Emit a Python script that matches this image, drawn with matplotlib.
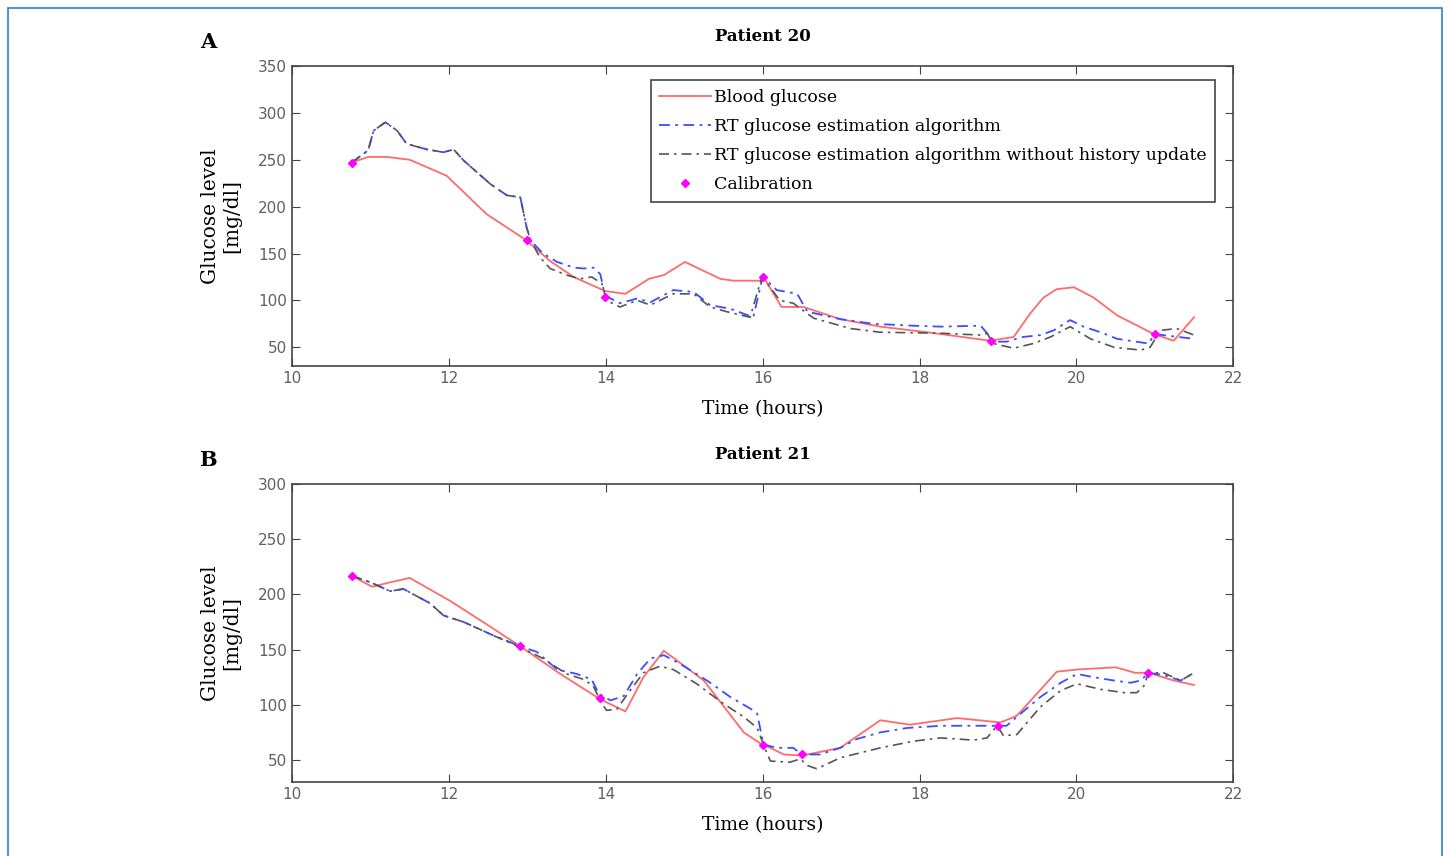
import matplotlib.pyplot as plt
from matplotlib.patches import Rectangle

# Patient 20 data
p20_bg_t = [10.76, 10.97, 11.21, 11.5, 11.97, 12.48, 12.99, 13.29, 13.59, 13.99, 14.25, 14.55, 14.74, 15.01,
            15.46, 15.63, 15.99, 16.01, 16.24, 16.52, 16.99, 17.5, 18.1, 18.9, 19.2, 19.41, 19.58, 19.75,
            19.97, 20.22, 20.52, 20.99, 21.24, 21.5]
p20_bg = [247, 253, 253, 250, 233, 192, 164, 142, 125, 110, 107, 123, 127, 141,
          123, 121, 121, 125, 93, 93, 80, 72, 66, 57, 61, 86, 103, 112,
          114, 103, 84, 64, 57, 82]

p20_nohist_t = [10.76, 10.97, 11.04, 11.19, 11.34, 11.46, 11.72, 11.93, 12.06, 12.19, 12.53, 12.74, 12.91,
                12.99, 13.04, 13.16, 13.29, 13.5, 13.67, 13.82, 13.95, 14.01, 14.18, 14.4, 14.57, 14.86,
                15.12, 15.33, 15.54, 15.84, 15.99, 16.03, 16.22, 16.39, 16.65, 17.12, 17.5, 18.27, 18.78,
                18.86, 18.94, 19.2, 19.45, 19.67, 19.92, 20.18, 20.48, 20.82, 20.94, 21.07, 21.28, 21.5]
p20_nohist = [247, 260, 281, 290, 281, 267, 261, 258, 261, 249, 224, 212, 210,
              178, 164, 146, 134, 127, 123, 125, 118, 100, 93, 100, 95, 107,
              107, 93, 88, 82, 125, 121, 100, 97, 81, 70, 66, 65, 63,
              65, 54, 49, 54, 61, 72, 59, 50, 47, 50, 68, 70, 63]

p20_rt_t = [10.76, 10.97, 11.04, 11.19, 11.34, 11.46, 11.72, 11.93, 12.06, 12.19, 12.53, 12.74, 12.91,
            12.99, 13.04, 13.2, 13.38, 13.59, 13.72, 13.84, 13.93, 13.99, 14.18, 14.4, 14.57, 14.86,
            15.12, 15.33, 15.59, 15.88, 16.0, 16.03, 16.18, 16.44, 16.57, 16.99, 17.41, 17.92, 18.27,
            18.78, 18.86, 18.94, 19.11, 19.32, 19.54, 19.71, 19.92, 20.09, 20.31, 20.52, 20.92, 21.0, 21.5]
p20_rt = [247, 260, 281, 290, 281, 267, 261, 258, 261, 249, 224, 212, 210,
          178, 164, 150, 141, 135, 134, 135, 128, 105, 97, 102, 98, 111,
          109, 95, 91, 82, 125, 123, 111, 107, 88, 80, 75, 73, 72,
          73, 65, 56, 56, 61, 63, 68, 79, 72, 66, 59, 54, 64, 59]

p20_cal_t = [10.76, 12.99, 13.99, 16.01, 18.91, 21.0]
p20_cal = [247, 164, 104, 125, 57, 64]

# Patient 21 data
p21_bg_t = [10.76, 11.02, 11.25, 11.5, 12.02, 12.48, 12.91, 13.42, 13.93, 14.25, 14.48, 14.74, 15.25,
            15.76, 15.99, 16.01, 16.27, 16.5, 16.99, 17.5, 17.88, 18.48, 19.03, 19.24, 19.75, 20.01,
            20.5, 20.75, 20.92, 21.24, 21.5]
p21_bg = [217, 207, 211, 215, 194, 173, 153, 128, 105, 94, 125, 149, 122,
          75, 64, 64, 55, 54, 61, 86, 82, 88, 84, 90, 130, 132,
          134, 129, 129, 122, 118]

p21_nohist_t = [10.76, 11.0, 11.25, 11.42, 11.76, 11.93, 12.19, 12.53, 12.91, 13.2, 13.5, 13.72, 13.84,
                13.95, 14.01, 14.14, 14.31, 14.48, 14.69, 14.86, 15.16, 15.5, 15.76, 15.93, 16.06, 16.1,
                16.35, 16.48, 16.57, 16.69, 16.99, 17.5, 17.92, 18.27, 18.69, 18.86, 18.99, 19.07, 19.24,
                19.54, 19.8, 20.01, 20.31, 20.61, 20.77, 20.86, 20.92, 21.11, 21.33, 21.5]
p21_nohist = [217, 211, 203, 205, 192, 181, 175, 164, 152, 142, 128, 123, 117,
              101, 95, 96, 113, 129, 135, 132, 119, 101, 89, 79, 55, 49,
              48, 51, 45, 42, 52, 61, 67, 70, 68, 70, 81, 72, 73,
              98, 113, 119, 114, 111, 111, 117, 129, 129, 122, 129]

p21_rt_t = [10.76, 11.0, 11.25, 11.42, 11.76, 11.93, 12.19, 12.53, 12.91, 13.12, 13.38, 13.63, 13.82,
            13.91, 14.06, 14.23, 14.4, 14.57, 14.74, 14.95, 15.29, 15.59, 15.88, 15.93, 15.97, 16.01,
            16.18, 16.39, 16.5, 16.73, 16.99, 17.2, 17.5, 17.84, 18.27, 18.69, 19.11, 19.29, 19.54,
            19.8, 20.01, 20.22, 20.48, 20.69, 20.82, 20.92, 21.11, 21.33, 21.5]
p21_rt = [217, 211, 203, 205, 192, 181, 175, 164, 153, 148, 132, 128, 123,
          110, 104, 108, 128, 142, 145, 137, 122, 107, 95, 92, 78, 64,
          61, 61, 55, 55, 61, 69, 75, 79, 81, 81, 81, 92, 107,
          120, 128, 125, 122, 120, 122, 129, 127, 122, 129]

p21_cal_t = [10.76, 12.91, 13.92, 16.0, 16.5, 19.0, 20.91]
p21_cal = [217, 153, 106, 64, 55, 81, 129]

xticks = [10, 12, 14, 16, 18, 20, 22]
labels = ["Blood glucose", "RT glucose estimation algorithm",
          "RT glucose estimation algorithm without history update", "Calibration"]

SERIF = "DejaVu Serif"


# draw one patient panel
def drawPanel(ax, bg, rt, nohist, cal, ylim, yticks, title, letter, legend):
    ax.plot(bg[0], bg[1], color="#ff6b6b", linewidth=1.3, label=labels[0])
    ax.plot(rt[0], rt[1], color="#3a4dff", linestyle=(0, (6, 3, 1.5, 3)), linewidth=1.3, label=labels[1])
    ax.plot(nohist[0], nohist[1], color="#555555", linestyle=(0, (6, 3, 1.5, 3)), linewidth=1.2, label=labels[2])
    ax.plot(cal[0], cal[1], linestyle="none", marker="D", markersize=4.5, color="#ff00ff", label=labels[3])

    ax.set_xlim(10, 22)
    ax.set_ylim(*ylim)
    ax.set_xticks(xticks)
    ax.set_yticks(yticks)
    ax.tick_params(direction="in", top=True, right=True, length=6, labelsize=11, labelcolor="#606060",
                   color="#444444")
    for s in ax.spines.values():
        s.set_color("#444444")
        s.set_linewidth(1.2)

    ax.set_title(title, fontfamily=SERIF, fontweight="bold", fontsize=12, pad=18)
    ax.set_xlabel("Time (hours)", fontfamily=SERIF, fontsize=13.5, labelpad=10)
    ax.set_ylabel("Glucose level\n[mg/dl]", fontfamily=SERIF, fontsize=14.5, linespacing=1.15, labelpad=12)
    ax.text(-0.089, 1.08, letter, transform=ax.transAxes, fontfamily=SERIF, fontweight="bold",
            fontsize=15, ha="center", va="center")

    if legend:
        leg = ax.legend(loc="upper right", bbox_to_anchor=(0.981, 0.953), fancybox=False, framealpha=1,
                        edgecolor="#444444", prop={"family": SERIF, "size": 12.5}, borderaxespad=0,
                        handlelength=3.0, handletextpad=0.15, labelspacing=0.7, borderpad=0.5)
        leg.get_frame().set_linewidth(1.2)


fig = plt.figure(figsize=(14.48, 8.56), dpi=100)
ax1 = fig.add_axes([0.2017, 0.5724, 0.650, 0.3505])
ax2 = fig.add_axes([0.2017, 0.0864, 0.650, 0.348])

drawPanel(ax1, (p20_bg_t, p20_bg), (p20_rt_t, p20_rt), (p20_nohist_t, p20_nohist), (p20_cal_t, p20_cal),
          (30, 350), [50, 100, 150, 200, 250, 300, 350], "Patient 20", "A", True)
drawPanel(ax2, (p21_bg_t, p21_bg), (p21_rt_t, p21_rt), (p21_nohist_t, p21_nohist), (p21_cal_t, p21_cal),
          (30, 300), [50, 100, 150, 200, 250, 300], "Patient 21", "B", False)

# thin blue frame around the figure
fig.patches.append(Rectangle((8 / 1448, -0.01), 1434 / 1448, 1 - 8 / 856 + 0.01, transform=fig.transFigure,
                             fill=False, edgecolor="#2a83c9", linewidth=1.2))

fig.savefig("out.png", dpi=100)
